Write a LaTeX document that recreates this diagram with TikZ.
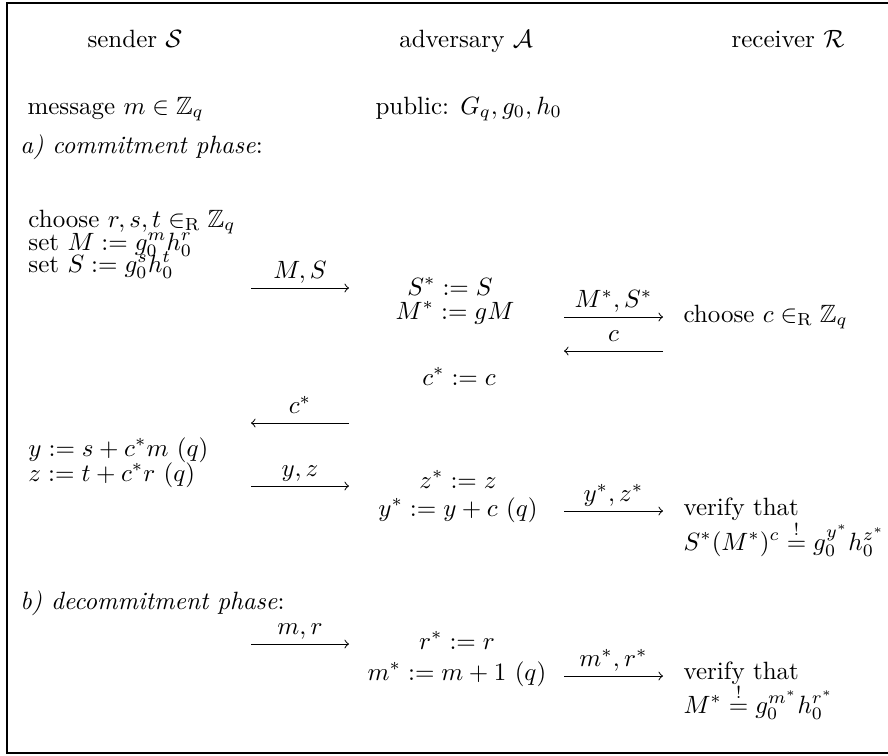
\documentclass[tikz,border=0pt]{standalone}
\usepackage{amsmath,amssymb}
\begin{document}
\begin{tikzpicture}[x=0.4pt,y=-0.4pt,
  txt/.style={inner sep=0pt, anchor=base west},
  ctr/.style={inner sep=0pt, anchor=base},
  msg/.style={->, line width=0.4pt},
  lbl/.style={inner sep=0pt, anchor=base, yshift=3.8pt}]
\useasboundingbox (0,0) rectangle (888,755);
\draw[line width=0.5pt] (7,3) rectangle (900,753);
% header
\node[ctr] (hs) at (135,47) {sender $\mathcal{S}$};
\node[ctr] (ha) at (466,47) {adversary $\mathcal{A}$};
\node[ctr] (hr) at (788,47) {receiver $\mathcal{R}$};
\node[txt] (msgm) at (27,114) {message $m \in \mathbb{Z}_q$};
\node[txt] (pub) at (375,114) {public: $G_q, g_0, h_0$};
\node[txt] (pha) at (20,153) {\textit{a) commitment phase}:};
% sender commitments
\node[txt] (s1) at (28,227) {choose $r,s,t \in_{\mathrm{R}} \mathbb{Z}_q$};
\node[txt] (s2) at (28,250) {set $M := g_0^m h_0^r$};
\node[txt] (s3) at (28,272) {set $S := g_0^s h_0^t$};
\coordinate (ms1) at (251,288); \coordinate (ms2) at (349,288);
\draw[msg] (ms1) -- (ms2) node[midway,lbl] {$M,S$};
\node[ctr] (a1) at (450,295) {$S^* := S$};
\node[ctr] (a2) at (455,319) {$M^* := gM$};
\coordinate (mr1) at (564,317); \coordinate (mr2) at (663,317);
\draw[msg] (mr1) -- (mr2) node[midway,lbl] {$M^*,S^*$};
\node[txt] (r1) at (683,322) {choose $c \in_{\mathrm{R}} \mathbb{Z}_q$};
\coordinate (c1) at (663,351); \coordinate (c2) at (564,351);
\draw[msg] (c1) -- (c2) node[midway,lbl] {$c$};
\node[ctr] (a3) at (459,385) {$c^* := c$};
\coordinate (cs1) at (349,423); \coordinate (cs2) at (251,423);
\draw[msg] (cs1) -- (cs2) node[midway,lbl] {$c^*$};
\node[txt] (s4) at (28,456) {$y := s + c^*m \ (q)$};
\node[txt] (s5) at (28,481) {$z := t + c^*r \ (q)$};
\coordinate (yz1) at (251,486); \coordinate (yz2) at (349,486);
\draw[msg] (yz1) -- (yz2) node[midway,lbl] {$y,z$};
\node[ctr] (a4) at (458,488) {$z^* := z$};
\node[ctr] (a5) at (458,516) {$y^* := y + c \ (q)$};
\coordinate (ys1) at (564,511); \coordinate (ys2) at (663,511);
\draw[msg] (ys1) -- (ys2) node[midway,lbl] {$y^*,z^*$};
\node[txt] (r2) at (683,515) {verify that};
\node[txt] (r3) at (683,550) {$S^*(M^*)^c \stackrel{!}{=} g_0^{y^*} h_0^{z^*}$};
\node[txt] (phb) at (20,609) {\textit{b) decommitment phase}:};
\coordinate (mr3) at (251,644); \coordinate (mr4) at (349,644);
\draw[msg] (mr3) -- (mr4) node[midway,lbl] {$m,r$};
\node[ctr] (a6) at (457,649) {$r^* := r$};
\node[ctr] (a7) at (457,680) {$m^* := m + 1 \ (q)$};
\coordinate (mm1) at (564,676); \coordinate (mm2) at (663,676);
\draw[msg] (mm1) -- (mm2) node[midway,lbl] {$m^*,r^*$};
\node[txt] (r4) at (683,679) {verify that};
\node[txt] (r5) at (683,713) {$M^* \stackrel{!}{=} g_0^{m^*} h_0^{r^*}$};
\end{tikzpicture}
\end{document}
